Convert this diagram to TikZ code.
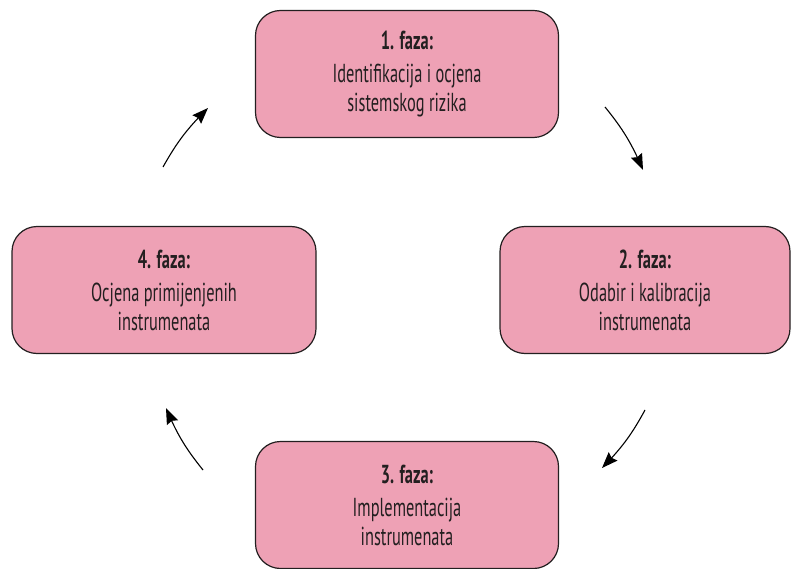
\documentclass[tikz,border=0pt]{standalone}
\usepackage{fontspec}
\setmainfont{PT Sans}[FakeStretch=0.63]
\usetikzlibrary{arrows.meta,bending}
\definecolor{pinkc}{RGB}{238,161,181}
\definecolor{edgec}{RGB}{35,31,32}
\tikzset{
  phase/.style={draw=edgec, line width=1.2pt, fill=pinkc, rounded corners=25pt,
    minimum height=127pt, align=center, inner sep=0pt,
    font=\fontsize{26}{29}\selectfont, text=edgec},
  arr/.style={draw=black, line width=1.1pt, -{Stealth[length=16pt,width=12pt,inset=2pt]}}
}
\begin{document}
\begin{tikzpicture}[x=1pt,y=-1pt]
\useasboundingbox (0,0) rectangle (791,569);
\node[phase, minimum width=303pt] (f1) at (407,74)
  {\textbf{1. faza:}\\[4pt] Identifikacija i ocjena\\ sistemskog rizika};
\node[phase, minimum width=290pt] (f2) at (645,290)
  {\textbf{2. faza:}\\[4pt] Odabir i kalibracija\\ instrumenata};
\node[phase, minimum width=303pt] (f3) at (407,505)
  {\textbf{3. faza:}\\[4pt] Implementacija\\ instrumenata};
\node[phase, minimum width=304pt] (f4) at (164,290)
  {\textbf{4. faza:}\\[4pt] Ocjena primijenjenih\\ instrumenata};
\coordinate (a1s) at (605,107);
\coordinate (a1e) at (643,170);
\coordinate (a2s) at (645,410);
\coordinate (a2e) at (602,468);
\coordinate (a3s) at (203,470);
\coordinate (a3e) at (166,408);
\coordinate (a4s) at (163,167);
\coordinate (a4e) at (208,108);
\draw[arr] (a1s) to[bend left=8] (a1e);
\draw[arr] (a2s) to[bend left=8] (a2e);
\draw[arr] (a3s) to[bend left=8] (a3e);
\draw[arr] (a4s) to[bend left=8] (a4e);
\end{tikzpicture}
\end{document}
